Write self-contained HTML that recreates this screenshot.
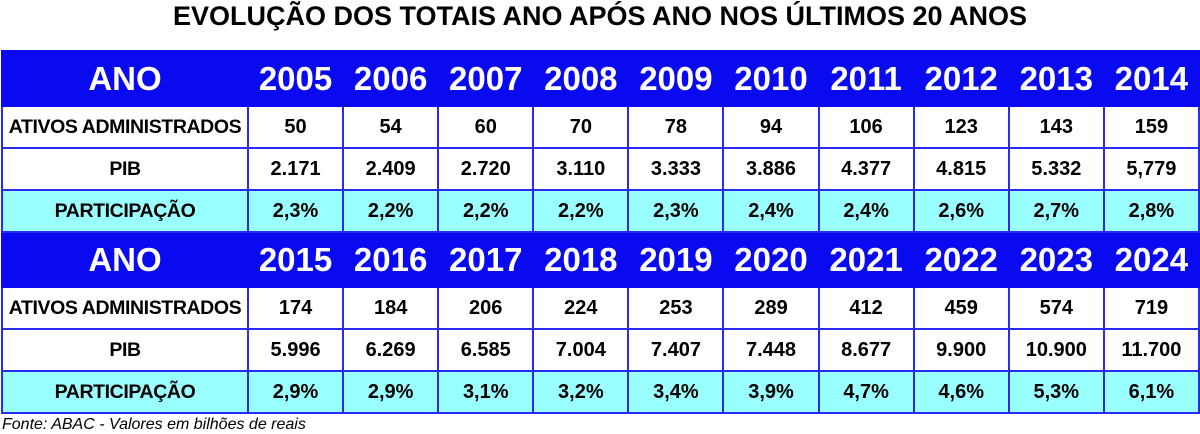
<!DOCTYPE html>
<html><head><meta charset="utf-8"><style>
body{margin:0;width:1200px;height:434px;background:#fff;position:relative;overflow:hidden;font-family:"Liberation Sans",sans-serif}
.t{position:absolute;top:0;left:0;width:1200px;text-align:center;font-weight:bold;font-size:27px;line-height:32px}
table{position:absolute;left:1px;border-collapse:collapse;table-layout:fixed;width:1197px}
td{border:2px solid #2a2af0;text-align:center;font-weight:bold;padding:0;overflow:hidden;white-space:nowrap}
tr.h td{background:#0a0af0;color:#fff;font-size:33px;height:53px;border-color:#0a0af0}
tr.r td{font-size:20px;height:40px;color:#000}
tr.c td{background:#99ffff}
tr.r td.l{font-size:19.5px;letter-spacing:-0.4px}
.f{position:absolute;left:2px;top:416px;font-style:italic;font-size:16px}
</style></head><body>
<div class="t">EVOLUÇÃO DOS TOTAIS ANO APÓS ANO NOS ÚLTIMOS 20 ANOS</div>
<table style="top:50px">
<colgroup><col style="width:246px"><col span="10" style="width:95.1px"></colgroup>
<tr class="h"><td>ANO</td><td>2005</td><td>2006</td><td>2007</td><td>2008</td><td>2009</td><td>2010</td><td>2011</td><td>2012</td><td>2013</td><td>2014</td></tr>
<tr class="r"><td class="l">ATIVOS ADMINISTRADOS</td><td>50</td><td>54</td><td>60</td><td>70</td><td>78</td><td>94</td><td>106</td><td>123</td><td>143</td><td>159</td></tr>
<tr class="r"><td class="l">PIB</td><td>2.171</td><td>2.409</td><td>2.720</td><td>3.110</td><td>3.333</td><td>3.886</td><td>4.377</td><td>4.815</td><td>5.332</td><td>5,779</td></tr>
<tr class="r c"><td class="l">PARTICIPAÇÃO</td><td>2,3%</td><td>2,2%</td><td>2,2%</td><td>2,2%</td><td>2,3%</td><td>2,4%</td><td>2,4%</td><td>2,6%</td><td>2,7%</td><td>2,8%</td></tr>
<tr class="h"><td>ANO</td><td>2015</td><td>2016</td><td>2017</td><td>2018</td><td>2019</td><td>2020</td><td>2021</td><td>2022</td><td>2023</td><td>2024</td></tr>
<tr class="r"><td class="l">ATIVOS ADMINISTRADOS</td><td>174</td><td>184</td><td>206</td><td>224</td><td>253</td><td>289</td><td>412</td><td>459</td><td>574</td><td>719</td></tr>
<tr class="r"><td class="l">PIB</td><td>5.996</td><td>6.269</td><td>6.585</td><td>7.004</td><td>7.407</td><td>7.448</td><td>8.677</td><td>9.900</td><td>10.900</td><td>11.700</td></tr>
<tr class="r c"><td class="l">PARTICIPAÇÃO</td><td>2,9%</td><td>2,9%</td><td>3,1%</td><td>3,2%</td><td>3,4%</td><td>3,9%</td><td>4,7%</td><td>4,6%</td><td>5,3%</td><td>6,1%</td></tr>
</table>
<div class="f">Fonte: ABAC - Valores em bilhões de reais</div>
</body></html>
